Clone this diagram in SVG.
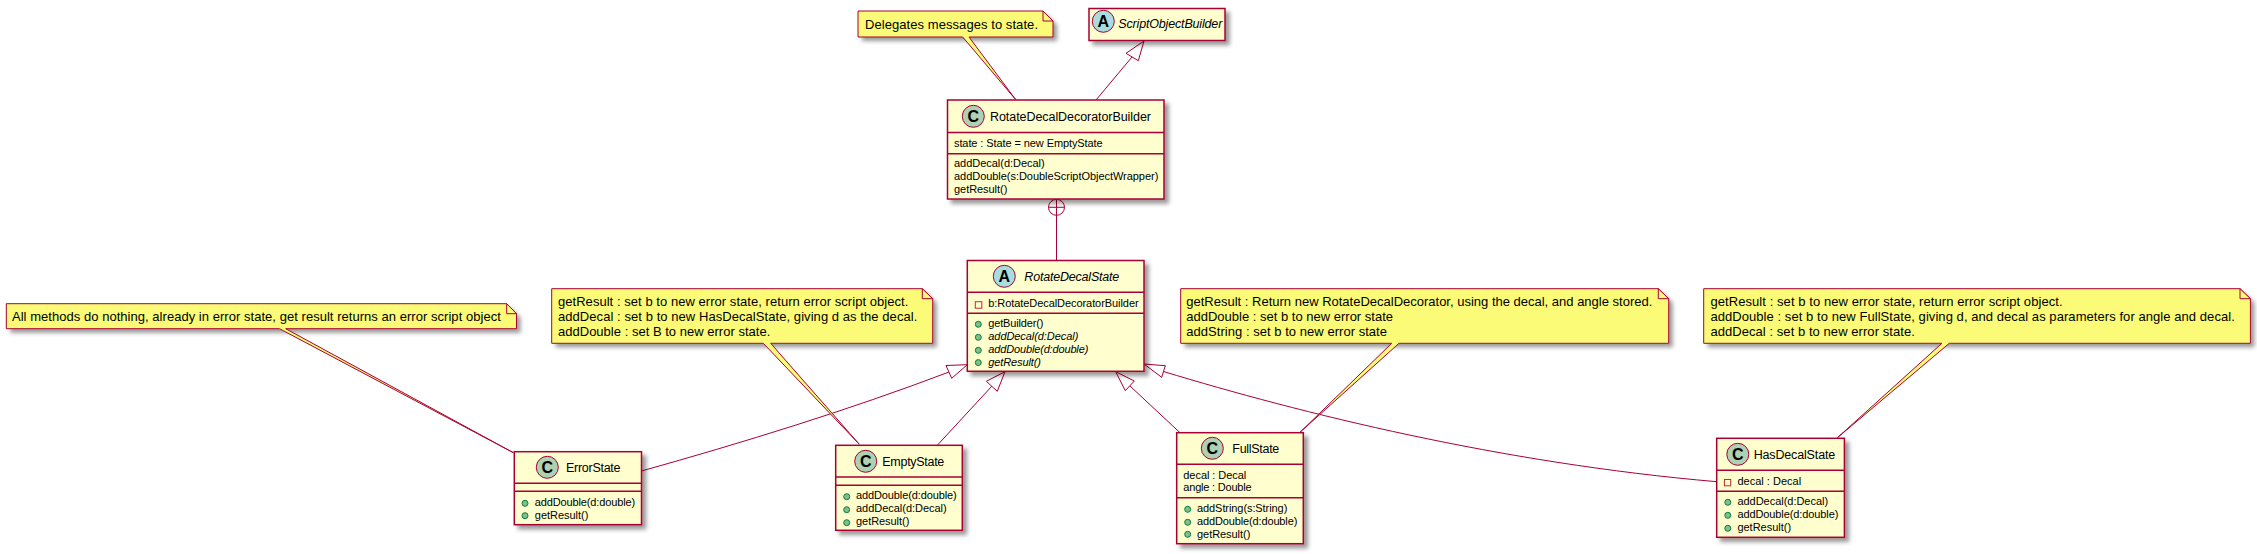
<svg xmlns="http://www.w3.org/2000/svg" width="2257" height="554" viewBox="0 0 2257 554">
<defs>
<filter id="sh" x="-10%" y="-20%" width="125%" height="160%"><feGaussianBlur in="SourceAlpha" stdDeviation="2"/><feColorMatrix values="0 0 0 0 0 0 0 0 0 0 0 0 0 0 0 0 0 0 .4 0"/><feOffset dx="4" dy="4" result="b"/><feBlend in="SourceGraphic" in2="b"/></filter>
</defs>
<style>
text{font-family:"Liberation Sans",Arial,sans-serif;fill:#000}
.n{font-size:12.5px}.m{font-size:11px}.t{font-size:13px}.i{font-style:italic}
.box{fill:#FEFECE;stroke:#A80036;stroke-width:1.5;filter:url(#sh)}
.sep{stroke:#A80036;stroke-width:1.5;fill:none}
.cc{fill:#ADD1B2;stroke:#A80036;stroke-width:1}
.ca{fill:#A9DCDF;stroke:#A80036;stroke-width:1}
.g{font-size:16px;font-weight:bold;text-anchor:middle}
.ns{fill:#FBFB77;filter:url(#sh)}
.note{fill:#FBFB77;stroke:#A80036;stroke-width:1}
.fold{fill:#FBFB77;stroke:#A80036;stroke-width:1}
.pub{fill:#84BE84;stroke:#038048;stroke-width:1}
.pri{fill:none;stroke:#C82930;stroke-width:1}
.e{fill:none;stroke:#A80036;stroke-width:1}
.h{fill:#fff;stroke:#A80036;stroke-width:1}
</style>
<g id="connectors">
<path class="e" d="M1096,100L1132,57"/><polygon class="h" points="1144,41 1126,53.3 1138.3,60.7"/>
<path class="e" d="M1056.5,260V215"/><circle class="h" cx="1056.5" cy="207.3" r="8"/><path class="e" d="M1048.5,207.3H1064.5M1056.5,199.3V215.3"/>
<path class="e" d="M641.5,471C741.5,443 849,410 949,372"/><polygon class="h" points="967.3,364.7 946,365.5 951.7,378.3"/>
<path class="e" d="M937.3,445.3L992,386"/><polygon class="h" points="1005,371.7 986.3,381.3 997.3,391.3"/>
<path class="e" d="M1180,432.7L1130,386"/><polygon class="h" points="1115.7,371.7 1125.3,390.7 1134.3,381"/>
<path class="e" d="M1163.5,371.5C1300,413 1500,463 1716.7,481.7"/><polygon class="h" points="1144,364 1165.3,365.7 1161.7,377.3"/>
</g>
<g id="note-delegates">
<path class="ns" d="M858,11H1043L1053,21V37H858Z"/>
<path class="note" d="M858,11H1043L1053,21V37H969L1016,100L962.7,37H858Z"/><path class="fold" d="M1043,11V21H1053Z"/>
<text class="t" x="865" y="29" textLength="173">Delegates messages to state.</text>
</g>
<g id="ScriptObjectBuilder">
<rect class="box" x="1089" y="8.5" width="136" height="32"/>
<circle class="ca" cx="1103.3" cy="21.3" r="11"/><text class="g" x="1103.3" y="27">A</text>
<text class="n i" x="1118.3" y="28" textLength="104">ScriptObjectBuilder</text>
</g>
<g id="RotateDecalDecoratorBuilder">
<rect class="box" x="947.5" y="100" width="216.5" height="99"/>
<path class="sep" d="M947.5,132.5H1164M947.5,153.7H1164"/>
<circle class="cc" cx="973.3" cy="116.3" r="11"/><text class="g" x="973.3" y="122">C</text>
<text class="n" x="990" y="121" textLength="161">RotateDecalDecoratorBuilder</text>
<text class="m" x="954" y="147" textLength="148.7">state : State = new EmptyState</text>
<text class="m" x="954" y="167" textLength="90.7">addDecal(d:Decal)</text>
<text class="m" x="954" y="180" textLength="204.3">addDouble(s:DoubleScriptObjectWrapper)</text>
<text class="m" x="954" y="193" textLength="53.3">getResult()</text>
</g>
<g id="RotateDecalState">
<rect class="box" x="967.3" y="260.5" width="176.7" height="110.8"/>
<path class="sep" d="M967.3,292.3H1144M967.3,313.3H1144"/>
<circle class="ca" cx="1004.3" cy="276.3" r="11"/><text class="g" x="1004.3" y="282">A</text>
<text class="n i" x="1024.3" y="281" textLength="95">RotateDecalState</text>
<rect class="pri" x="975.3" y="301.7" width="6.5" height="6.5"/>
<text class="m" x="988.3" y="307" textLength="150.3">b:RotateDecalDecoratorBuilder</text>
<circle class="pub" cx="978.3" cy="324.3" r="3"/><text class="m" x="988.3" y="327" textLength="55">getBuilder()</text>
<circle class="pub" cx="978.3" cy="337.3" r="3"/><text class="m i" x="988.3" y="340" textLength="90">addDecal(d:Decal)</text>
<circle class="pub" cx="978.3" cy="350.3" r="3"/><text class="m i" x="988.3" y="353" textLength="100">addDouble(d:double)</text>
<circle class="pub" cx="978.3" cy="362.6" r="3"/><text class="m i" x="988.3" y="366" textLength="52.7">getResult()</text>
</g>
<g id="note-error">
<path class="ns" d="M6.3,303.7H506.7L516.5,313.7V328.7H6.3Z"/>
<path class="note" d="M6.3,303.7H506.7L516.5,313.7V328.7H285.7L513.4,452.7L279.5,328.7H6.3Z"/><path class="fold" d="M506.7,303.7V313.7H516.5Z"/>
<text class="t" x="12" y="321" textLength="488.8">All methods do nothing, already in error state, get result returns an error script object</text>
</g>
<g id="ErrorState">
<rect class="box" x="514.3" y="451.7" width="127.2" height="73"/>
<path class="sep" d="M514.3,483.3H641.5M514.3,491.3H641.5"/>
<circle class="cc" cx="547.3" cy="467.3" r="11"/><text class="g" x="547.3" y="473">C</text>
<text class="n" x="566" y="472" textLength="54.5">ErrorState</text>
<circle class="pub" cx="525" cy="503.3" r="3"/><text class="m" x="534.8" y="506" textLength="100.4">addDouble(d:double)</text>
<circle class="pub" cx="525" cy="515.7" r="3"/><text class="m" x="534.8" y="518.5" textLength="53.6">getResult()</text>
</g>
<g id="note-empty">
<path class="ns" d="M551.7,288.7H922.3L932.7,298.7V343.3H551.7Z"/>
<path class="note" d="M551.7,288.7H922.3L932.7,298.7V343.3H770.7L859.3,444.3L763.3,343.3H551.7Z"/><path class="fold" d="M922.3,288.7V298.7H932.7Z"/>
<text class="t" x="558" y="306" textLength="350.3">getResult : set b to new error state, return error script object.</text>
<text class="t" x="558" y="321" textLength="359.3">addDecal : set b to new HasDecalState, giving d as the decal.</text>
<text class="t" x="558" y="336" textLength="212.3">addDouble : set B to new error state.</text>
</g>
<g id="EmptyState">
<rect class="box" x="835.7" y="445.3" width="126.6" height="85"/>
<path class="sep" d="M835.7,477H962.3M835.7,485.3H962.3"/>
<circle class="cc" cx="865.7" cy="461.3" r="11"/><text class="g" x="865.7" y="467">C</text>
<text class="n" x="882.3" y="465.5" textLength="62">EmptyState</text>
<circle class="pub" cx="846.7" cy="496.7" r="3"/><text class="m" x="856" y="499" textLength="100.7">addDouble(d:double)</text>
<circle class="pub" cx="846.7" cy="509.7" r="3"/><text class="m" x="856" y="512" textLength="90.7">addDecal(d:Decal)</text>
<circle class="pub" cx="846.7" cy="522.7" r="3"/><text class="m" x="856" y="525" textLength="53.3">getResult()</text>
</g>
<g id="note-full">
<path class="ns" d="M1180.7,288.7H1658.3L1668.7,298.7V343.3H1180.7Z"/>
<path class="note" d="M1180.7,288.7H1658.3L1668.7,298.7V343.3H1399L1300,432.3L1391.7,343.3H1180.7Z"/><path class="fold" d="M1658.3,288.7V298.7H1668.7Z"/>
<text class="t" x="1186.3" y="306" textLength="466">getResult : Return new RotateDecalDecorator, using the decal, and angle stored.</text>
<text class="t" x="1186.3" y="321" textLength="206.7">addDouble : set b to new error state</text>
<text class="t" x="1186.3" y="336" textLength="200.7">addString : set b to new error state</text>
</g>
<g id="FullState">
<rect class="box" x="1176.7" y="432.7" width="126.6" height="111"/>
<path class="sep" d="M1176.7,464.3H1303.3M1176.7,497.7H1303.3"/>
<circle class="cc" cx="1212.3" cy="448.3" r="11"/><text class="g" x="1212.3" y="454">C</text>
<text class="n" x="1232.3" y="453" textLength="47">FullState</text>
<text class="m" x="1183.3" y="478.7" textLength="63">decal : Decal</text>
<text class="m" x="1183.3" y="490.7" textLength="68.3">angle : Double</text>
<circle class="pub" cx="1187.7" cy="509.3" r="3"/><text class="m" x="1197" y="512" textLength="90.3">addString(s:String)</text>
<circle class="pub" cx="1187.7" cy="522.3" r="3"/><text class="m" x="1197" y="525" textLength="100.3">addDouble(d:double)</text>
<circle class="pub" cx="1187.7" cy="534.3" r="3"/><text class="m" x="1197" y="538" textLength="53.3">getResult()</text>
</g>
<g id="note-hasdecal">
<path class="ns" d="M1703.7,288.7H2240L2250.4,298.7V343.3H1703.7Z"/>
<path class="note" d="M1703.7,288.7H2240L2250.4,298.7V343.3H1949.3L1837.4,437.7L1941.9,343.3H1703.7Z"/><path class="fold" d="M2240,288.7V298.7H2250.4Z"/>
<text class="t" x="1710.4" y="306" textLength="352.2">getResult : set b to new error state, return error script object.</text>
<text class="t" x="1710.4" y="321" textLength="524.4">addDouble : set b to new FullState, giving d, and decal as parameters for angle and decal.</text>
<text class="t" x="1710.4" y="336" textLength="204.4">addDecal : set b to new error state.</text>
</g>
<g id="HasDecalState">
<rect class="box" x="1716.7" y="438.3" width="127.7" height="99"/>
<path class="sep" d="M1716.7,470.3H1844.4M1716.7,491.3H1844.4"/>
<circle class="cc" cx="1737.8" cy="454.3" r="11"/><text class="g" x="1737.8" y="460">C</text>
<text class="n" x="1753.7" y="459" textLength="81.5">HasDecalState</text>
<rect class="pri" x="1724.4" y="479.5" width="6.3" height="6.3"/>
<text class="m" x="1737.4" y="484.7" textLength="63.7">decal : Decal</text>
<circle class="pub" cx="1727.8" cy="502.3" r="3"/><text class="m" x="1737.4" y="504.7" textLength="90.7">addDecal(d:Decal)</text>
<circle class="pub" cx="1727.8" cy="515.3" r="3"/><text class="m" x="1737.4" y="517.7" textLength="101">addDouble(d:double)</text>
<circle class="pub" cx="1727.8" cy="528.3" r="3"/><text class="m" x="1737.4" y="530.7" textLength="53.7">getResult()</text>
</g>
</svg>
